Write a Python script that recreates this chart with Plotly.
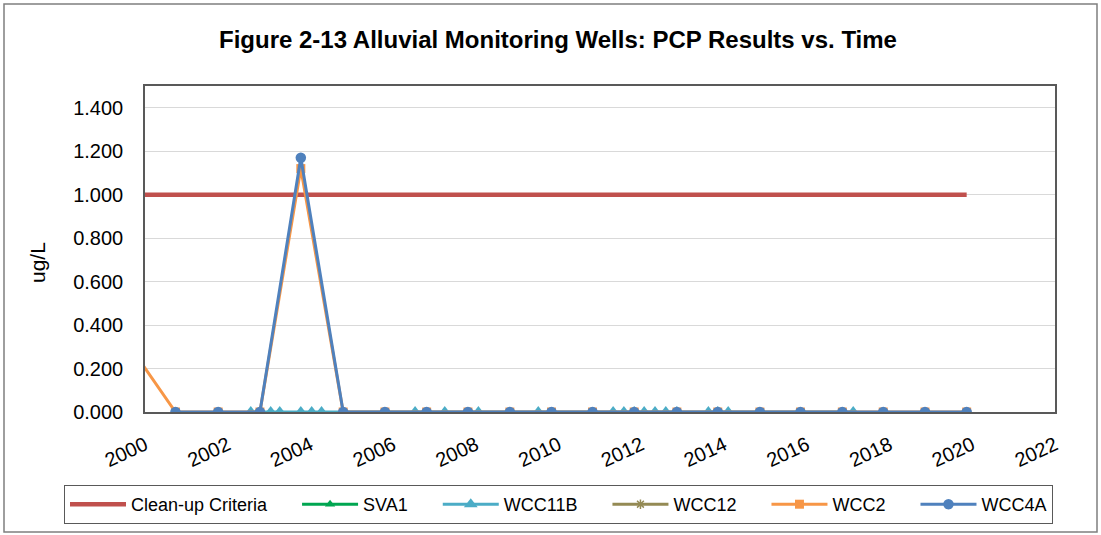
import plotly.graph_objects as go

# ---------------- data ----------------
criteria_dates = ["2000-01-01", "2019-11-13"]
criteria_vals = [1.0, 1.0]

sva1_dates = [None]
sva1_vals = [None]

wcc12_dates = [None]
wcc12_vals = [None]

wcc11b_dates = ["2002-07-23", "2002-10-12", "2003-01-15", "2003-04-05", "2003-10-08",
                "2004-01-12", "2004-04-08", "2006-07-13", "2007-04-01", "2008-01-23",
                "2009-07-05", "2011-04-27", "2011-07-31", "2011-10-30", "2012-01-26",
                "2012-05-01", "2012-08-04", "2012-11-10", "2013-08-15", "2013-11-06",
                "2014-02-06", "2017-02-14"]
wcc11b_vals = [0.0] * len(wcc11b_dates)

annual_dates = ["2000-09-26", "2001-10-08", "2002-10-12", "2003-10-08", "2004-10-16",
                "2005-10-20", "2006-10-23", "2007-10-23", "2008-10-27", "2009-10-30",
                "2010-10-27", "2011-10-30", "2012-11-10", "2013-11-06", "2014-11-13",
                "2015-11-06", "2016-11-10", "2017-11-06", "2018-11-10", "2019-11-13"]

wcc2_dates = ["1999-09-26"] + annual_dates
wcc2_vals = [0.274, 0.0, 0.0, 0.0, 1.12, 0.0, 0.0, 0.0, 0.0, 0.0, 0.0,
             0.0, 0.0, 0.0, 0.0, 0.0, 0.0, 0.0, 0.0, 0.0, 0.0]

wcc4a_dates = annual_dates
wcc4a_vals = [0.0, 0.0, 0.0, 1.17, 0.0, 0.0, 0.0, 0.0, 0.0, 0.0,
              0.0, 0.0, 0.0, 0.0, 0.0, 0.0, 0.0, 0.0, 0.0, 0.0]

y_ticks = [0.0, 0.2, 0.4, 0.6, 0.8, 1.0, 1.2, 1.4]
x_tick_years = list(range(2000, 2023, 2))

PAD = "\u00a0" * 5  # spacing after each legend label

# ---------------- figure ----------------
fig = go.Figure()

fig.add_trace(go.Scatter(x=criteria_dates, y=criteria_vals, mode="lines",
                         name="Clean-up Criteria" + PAD,
                         line=dict(color="#C0504D", width=4.5)))
fig.add_trace(go.Scatter(x=sva1_dates, y=sva1_vals, mode="lines+markers", name="SVA1" + PAD,
                         line=dict(color="#00A651", width=3),
                         marker=dict(symbol="triangle-up", size=9, color="#00A651")))
fig.add_trace(go.Scatter(x=wcc11b_dates, y=wcc11b_vals, mode="lines+markers", name="WCC11B" + PAD,
                         line=dict(color="#4BACC6", width=3),
                         marker=dict(symbol="triangle-up", size=12, color="#4BACC6")))
fig.add_trace(go.Scatter(x=wcc12_dates, y=wcc12_vals, mode="lines+markers", name="WCC12" + PAD,
                         line=dict(color="#948A54", width=3),
                         marker=dict(symbol="asterisk", size=8, color="#948A54",
                                     line=dict(color="#948A54", width=1.5))))
fig.add_trace(go.Scatter(x=wcc2_dates, y=wcc2_vals, mode="lines+markers", name="WCC2" + PAD,
                         line=dict(color="#F79646", width=3),
                         marker=dict(symbol="square", size=9, color="#F79646")))
fig.add_trace(go.Scatter(x=wcc4a_dates, y=wcc4a_vals, mode="lines+markers", name="WCC4A",
                         line=dict(color="#4F81BD", width=3),
                         marker=dict(symbol="circle", size=10.5, color="#4F81BD")))

font_family = "Liberation Sans, Arial, sans-serif"

fig.update_layout(
    width=1101, height=535,
    margin=dict(l=145, r=46, t=86, b=123, autoexpand=False),
    paper_bgcolor="white", plot_bgcolor="white",
    font=dict(family=font_family, color="#000000"),
    title=dict(text="<b>Figure 2-13 Alluvial Monitoring Wells: PCP Results vs. Time</b>",
               x=558 / 1101, xanchor="center", xref="container",
               y=1 - 40 / 535, yanchor="middle", yref="container",
               font=dict(size=24, color="#000000")),
    xaxis=dict(type="date",
               range=["2000-01-01", "2022-01-01"],
               tickvals=[f"{y}-01-01" for y in x_tick_years],
               ticktext=[str(y) for y in x_tick_years],
               tickangle=-25, tickfont=dict(size=20, color="#000000"),
               ticklabelstandoff=12,
               showgrid=False, zeroline=False,
               showline=True, mirror=True, linecolor="#595959", linewidth=1.5,
               ticks=""),
    yaxis=dict(range=[0, 1.5], tickvals=y_ticks, tickformat=".3f",
               tickfont=dict(size=20, color="#000000"),
               ticklabelstandoff=16,
               showgrid=True, gridcolor="#D9D9D9", gridwidth=1,
               zeroline=False,
               showline=True, mirror=True, linecolor="#595959", linewidth=1.5,
               ticks=""),
    legend=dict(orientation="h", xref="paper", yref="paper",
                x=(64 - 145) / 910, xanchor="left",
                y=(412 - 485) / 326, yanchor="top",
                font=dict(size=18, color="#000000"),
                bordercolor="#595959", borderwidth=1,
                itemwidth=56,
                bgcolor="white"),
    showlegend=True,
)

fig.add_annotation(text="ug/L", textangle=-90, xref="paper", yref="paper",
                   x=(37 - 145) / 910, y=(412 - 263) / 326,
                   xanchor="center", yanchor="middle", showarrow=False,
                   font=dict(size=21, color="#000000"))

# outer chart border
fig.add_shape(type="rect", xref="paper", yref="paper",
              x0=(4 - 145) / 910, x1=(1097 - 145) / 910,
              y0=(412 - 532) / 326, y1=(412 - 4) / 326,
              line=dict(color="#7F7F7F", width=1.5), layer="below")

fig.write_html("out.html", config={"displayModeBar": False},
               post_script="document.body.style.margin='0';")
